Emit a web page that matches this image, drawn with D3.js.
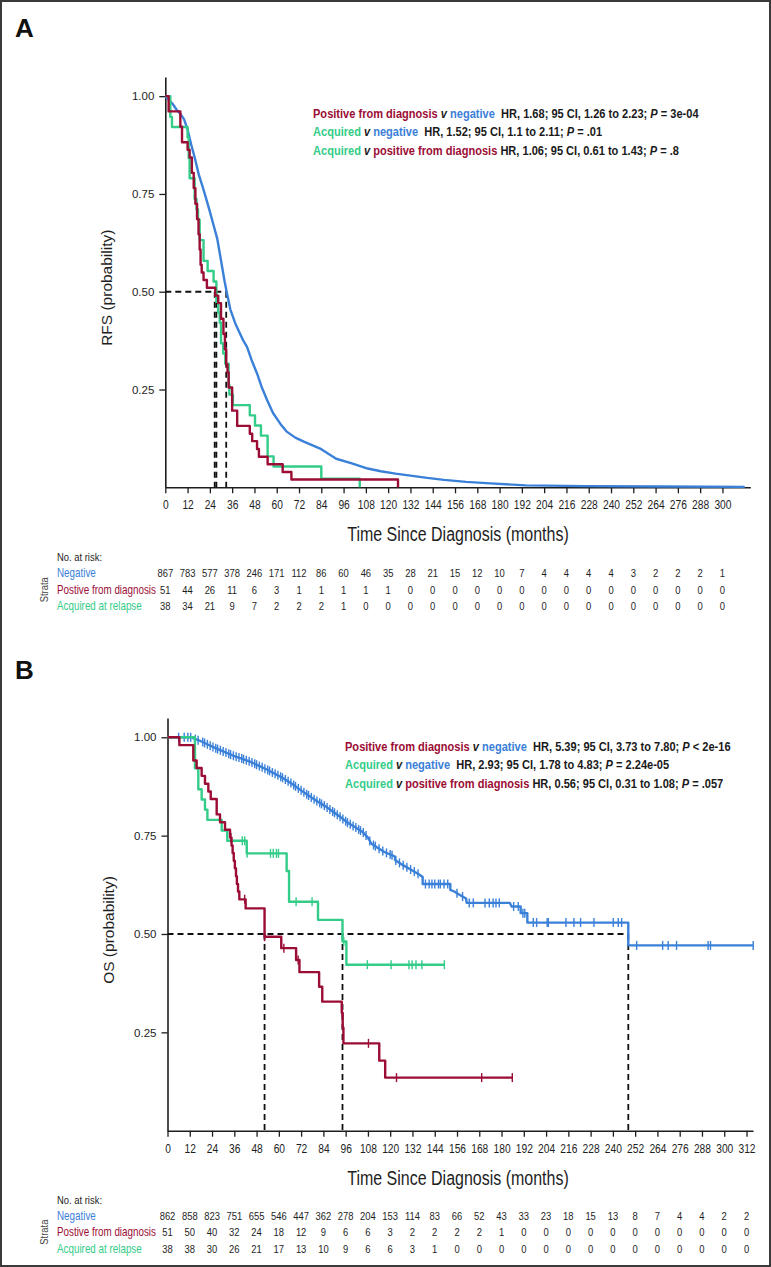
<!DOCTYPE html>
<html><head><meta charset="utf-8">
<script src="https://cdn.jsdelivr.net/npm/d3@7"></script>
<style>
html,body{margin:0;padding:0;background:#fff;}
svg{display:block;}
text{white-space:pre;}
</style></head><body>
<svg id="c" width="771" height="1267"></svg>
<script>
// ---------------- DATA ----------------
const monthsA = [0,12,24,36,48,60,72,84,96,108,120,132,144,156,168,180,192,204,216,228,240,252,264,276,288,300];
const monthsB = [0,12,24,36,48,60,72,84,96,108,120,132,144,156,168,180,192,204,216,228,240,252,264,276,288,300,312];
const yTickValues = [0.25,0.5,0.75,1.0];
const yTickLabels = ["0.25","0.50","0.75","1.00"];
const strataLabels = ["Negative","Postive from diagnosis","Acquired at relapse"];

// Panel A: RFS
const rfsNegT = [0,2,4,6,8,10,12,14,16,18,20,22,24,26,28,30,32,33.2,35,37.7,40,42,44,46.5,49.4,52,54.8,58,62,65.2,70,74.9,79,83.4,88,92,100,109,116,124,132,141,150,162,175,194,226,268,312];
const rfsNegS = [1,0.99,0.98,0.966,0.955,0.942,0.915,0.875,0.84,0.8,0.77,0.738,0.705,0.67,0.635,0.58,0.525,0.496,0.455,0.419,0.395,0.375,0.359,0.325,0.291,0.255,0.223,0.19,0.162,0.143,0.127,0.116,0.108,0.099,0.085,0.073,0.062,0.048,0.041,0.035,0.03,0.024,0.019,0.014,0.01,0.005,0.003,0.002,0.001];
const rfsPosT = [0,1.8,8.1,9.0,12.0,13.1,14.3,15.3,16.2,17.1,17.9,18.5,19.0,19.6,20.6,22.4,26.9,28.5,30.0,31.3,32.1,32.8,33.5,34.1,36.0,38.7,45.5,46.8,49.4,50.4,55.1,63.2,67.9,125.3];
const rfsPosS = [1,0.961,0.922,0.882,0.863,0.843,0.804,0.765,0.725,0.686,0.647,0.608,0.569,0.549,0.530,0.510,0.490,0.471,0.431,0.392,0.353,0.314,0.294,0.255,0.196,0.157,0.137,0.118,0.098,0.078,0.059,0.039,0.020,0];
const rfsAcqT = [0,2.7,3.6,12.0,12.6,13.1,15.8,16.8,17.6,18.5,20.6,22.8,26.0,27.5,28.5,29.3,30.0,31.2,32.3,34.1,34.5,36.4,45.5,48.3,51.5,55.1,58.3,84.0,104.7];
const rfsAcqS = [1,0.947,0.921,0.895,0.842,0.790,0.737,0.711,0.684,0.632,0.579,0.553,0.526,0.474,0.447,0.421,0.368,0.342,0.316,0.263,0.237,0.210,0.184,0.158,0.132,0.079,0.053,0.022,0];
const rfsMedians = [26.6,27.5,32.8];
const riskA_neg = [867,783,577,378,246,171,112,86,60,46,35,28,21,15,12,10,7,4,4,4,4,3,2,2,2,1];
const riskA_pos = [51,44,26,11,6,3,1,1,1,1,1,0,0,0,0,0,0,0,0,0,0,0,0,0,0,0];
const riskA_acq = [38,34,21,9,7,2,2,2,1,0,0,0,0,0,0,0,0,0,0,0,0,0,0,0,0,0];

// Panel B: OS
const osNegT = [0,13.5,14,18,22,26.5,31,35.5,40,44.5,49,53.5,58,62.4,67,71.4,76,80.4,85,89.4,93,97,101,105.5,108,109.8,113,116.2,119,122.6,122.6,126.9,131,135.4,137.5,137.5,152.4,152.4,154.5,158,160.9,161.2,184.5,185.4,190.3,190.3,193.9,193.9,248.3,248.3,315.6];
const osNegS = [1,1,0.997,0.99,0.981,0.971,0.962,0.953,0.946,0.938,0.928,0.918,0.907,0.896,0.882,0.867,0.852,0.838,0.825,0.81,0.798,0.783,0.772,0.758,0.745,0.73,0.72,0.71,0.704,0.697,0.688,0.675,0.664,0.652,0.645,0.627,0.627,0.612,0.608,0.598,0.59,0.579,0.579,0.57,0.57,0.553,0.553,0.529,0.529,0.471,0.471];
const osNegCens = [6,9,11,12.5,15,16.5,19,20,21.5,23,24.5,26,27,28.5,30,31.5,33,34,35.5,37,38.5,40,41,42.5,44,45.5,47,48,49.5,51,52.5,54,55,56.5,58,59.5,61,62,63.5,65,66.5,68,69,70.5,72,73.5,75,76,77.5,79,80.5,82,83,84.5,86,87.5,89,90,91.5,93,94.5,96,97,98.5,100,101.5,103,104,105.5,107,109,111,112,114,116,118,120,121,123,125,127,129,131,133,135,139,141,142.5,144,146,147,149,151,156,159,162.6,164.8,171.1,173.4,175.5,177,178.8,186.5,189,191.5,192.5,197.1,198.9,204.6,205.2,214.7,219,222.6,229.8,240.2,242.9,244.7,252.8,266.8,269.8,274.3,291.3,292.6,315.6];
const osPosT = [0,6.4,13.9,15.7,18.4,20.2,22.0,23.3,26.5,28.3,31.0,33.7,34.5,35.1,35.7,36.3,36.9,37.4,38.0,38.7,42.1,52.3,61.3,69.3,71.1,81.7,83.4,93.9,94.4,94.8,114.1,117.3];
const osPosS = [1,0.980,0.941,0.922,0.902,0.882,0.862,0.843,0.804,0.784,0.765,0.745,0.725,0.706,0.686,0.667,0.647,0.627,0.608,0.588,0.565,0.493,0.464,0.434,0.403,0.366,0.328,0.300,0.262,0.222,0.178,0.135];
const osPosEnd = 185.8;
const osPosCens = [34.2,41.6,52.3,62.7,70.4,94.2,108.3,123.4,169.3,185.8];
const osAcqT = [0,14.8,16.6,18.4,20.2,21.5,29.2,32.2,42.7,64.2,65.5,81.1,94.3,96.4];
const osAcqS = [1,0.921,0.868,0.842,0.816,0.790,0.763,0.737,0.705,0.66,0.582,0.536,0.481,0.422];
const osAcqEnd = 149.2;
const osAcqCens = [40.3,41.6,42.9,55.5,57.0,58.7,59.8,69.3,77.9,95.0,107.7,120.5,130.1,131.8,133.9,137.1,149.2];
const osMedians = [52.3,94.3,248.3];
const riskB_neg = [862,858,823,751,655,546,447,362,278,204,153,114,83,66,52,43,33,23,18,15,13,8,7,4,4,2,2];
const riskB_pos = [51,50,40,32,24,18,12,9,6,6,3,2,2,2,2,1,0,0,0,0,0,0,0,0,0,0,0];
const riskB_acq = [38,38,30,26,21,17,13,10,9,6,6,3,1,0,0,0,0,0,0,0,0,0,0,0,0,0,0];

const legendA = [
  [["pos","Positive from diagnosis"],["it"," v "],["neg","negative"],["k","  HR, 1.68; 95 CI, 1.26 to 2.23; "],["it","P"],["k"," = 3e-04"]],
  [["acq","Acquired"],["it"," v "],["neg","negative"],["k","  HR, 1.52; 95 CI, 1.1 to 2.11; "],["it","P"],["k"," = .01"]],
  [["acq","Acquired"],["it"," v "],["pos","positive from diagnosis"],["k"," HR, 1.06; 95 CI, 0.61 to 1.43; "],["it","P"],["k"," = .8"]]
];
const legendB = [
  [["pos","Positive from diagnosis"],["it"," v "],["neg","negative"],["k","  HR, 5.39; 95 CI, 3.73 to 7.80; "],["it","P"],["k"," < 2e-16"]],
  [["acq","Acquired"],["it"," v "],["neg","negative"],["k","  HR, 2.93; 95 CI, 1.78 to 4.83; "],["it","P"],["k"," = 2.24e-05"]],
  [["acq","Acquired"],["it"," v "],["pos","positive from diagnosis"],["k"," HR, 0.56; 95 CI, 0.31 to 1.08; "],["it","P"],["k"," = .057"]]
];

// ---------------- STYLE ----------------
const COL = {neg:"#3a80d8", pos:"#9b0d35", acq:"#33cc88", k:"#1a1a1a", it:"#1a1a1a"};
const SANS = "'Liberation Sans',Arial,Helvetica,sans-serif";
const SQ = 0.82; // horizontal squeeze to imitate a condensed face
const INK = "#1e1e1e";

const svg = d3.select("#c");
svg.append("rect").attr("x",1).attr("y",1).attr("width",769).attr("height",1265)
  .attr("fill","#fff").attr("stroke","#3a3a3a").attr("stroke-width",2);

function ntext(sel, x, y, str, size, extraTransform){
  return sel.append("text")
    .attr("transform",`translate(${x},${y})${extraTransform||""} scale(${SQ},1)`)
    .attr("font-family",SANS).attr("font-size",size).attr("fill",INK).text(str);
}

function valueAt(T,S,t,linear){
  let i = 0;
  for (let k=0;k<T.length;k++){ if (T[k] <= t) i = k; }
  if (!linear || i >= T.length-1 || T[i+1]===T[i]) return S[i];
  const f = (t - T[i])/(T[i+1]-T[i]);
  return S[i] + f*(S[i+1]-S[i]);
}

function panel(p){
  const g = svg.append("g");
  const x = d3.scaleLinear().domain([0,p.xMax]).range([p.x0,p.x1]);
  const y = d3.scaleLinear().domain([0,1.049]).range([p.yBase,p.yTop]);

  g.append("text").attr("x",15).attr("y",p.letterY).text(p.letter)
    .attr("font-family",SANS).attr("font-weight","bold").attr("font-size",26).attr("fill","#111");

  const ya = g.append("g").attr("transform",`translate(${p.x0},0)`)
    .call(d3.axisLeft(y).tickValues(yTickValues).tickFormat((d,i)=>yTickLabels[i]).tickSize(6).tickSizeOuter(0).tickPadding(5));
  ya.selectAll("text").attr("font-family",SANS).attr("font-size",11.5).attr("fill",INK);
  const xa = g.append("g").attr("transform",`translate(0,${p.yBase})`)
    .call(d3.axisBottom(x).tickValues(p.months).tickFormat(d=>String(d)).tickSize(6).tickSizeOuter(0));
  xa.selectAll("text").attr("font-family",SANS).attr("font-size",12.5).attr("fill",INK)
    .attr("y",null).attr("dy",null).attr("transform",`translate(0,${p.tickLabDY}) scale(${SQ},1)`);
  [ya,xa].forEach(a=>{
    a.select(".domain").attr("stroke",INK).attr("stroke-width",1.6);
    a.selectAll(".tick line").attr("stroke",INK).attr("stroke-width",1.3);
  });

  g.append("text").attr("transform",`translate(${p.yTitleX},${y(0.5)-4}) rotate(-90)`)
    .attr("text-anchor","middle").attr("font-family",SANS).attr("font-size",15.5).attr("fill",INK).text(p.yTitle);
  ntext(g, 458, p.yBase + p.xTitleDY, "Time Since Diagnosis (months)", 19.5).attr("text-anchor","middle");

  const dash = g.append("g").attr("stroke","#111").attr("stroke-width",1.8).attr("stroke-dasharray","6,4").attr("fill","none");
  dash.append("line").attr("x1",p.x0).attr("x2",x(d3.max(p.medians))).attr("y1",y(0.5)).attr("y2",y(0.5));
  p.medians.forEach(m=>dash.append("line").attr("x1",x(m)).attr("x2",x(m)).attr("y1",y(0.5)).attr("y2",p.yBase));

  p.series.forEach(s=>{
    const pts = s.T.map((t,i)=>[t,s.S[i]]);
    if (s.end !== undefined) pts.push([s.end, s.S[s.S.length-1]]);
    const line = d3.line().x(d=>x(d[0])).y(d=>y(d[1])).curve(s.linear ? d3.curveLinear : d3.curveStepAfter);
    g.append("path").attr("d",line(pts)).attr("fill","none").attr("stroke",COL[s.key])
      .attr("stroke-width",2.4).attr("stroke-linejoin","round");
    if (s.cens){
      g.append("g").selectAll("line").data(s.cens).join("line")
        .attr("x1",d=>x(d)).attr("x2",d=>x(d))
        .attr("y1",d=>y(valueAt(s.T,s.S,d,s.linear))-4.5)
        .attr("y2",d=>y(valueAt(s.T,s.S,d,s.linear))+4.5)
        .attr("stroke",COL[s.key]).attr("stroke-width",1.4);
    }
  });

  p.legend.forEach((row,i)=>{
    const t = g.append("text")
      .attr("transform",`translate(${p.legX},${p.legY + i*p.legDY}) scale(${SQ},1)`)
      .attr("font-family",SANS).attr("font-weight","bold").attr("font-size",13.5);
    row.forEach(seg=>{
      t.append("tspan").text(seg[1]).attr("fill",COL[seg[0]])
        .attr("font-style",seg[0]==="it"?"italic":"normal");
    });
  });

  const rt = p.yBase;
  ntext(g, 57, rt + p.riskDY[0], "No. at risk:", 11.5);
  const rows = [["neg",p.risk[0]],["pos",p.risk[1]],["acq",p.risk[2]]];
  const rowY = [rt + p.riskDY[1], rt + p.riskDY[2], rt + p.riskDY[3]];
  rows.forEach((r,i)=>{
    ntext(g, 57, rowY[i], strataLabels[i], 12).attr("fill",COL[r[0]]);
    const rg = g.append("g");
    r[1].forEach((d,j)=>{
      ntext(rg, x(p.months[j]), rowY[i], String(d), 11.5).attr("text-anchor","middle");
    });
  });
  ntext(g, 48, rowY[1]-4, "Strata", 11.5, " rotate(-90)").attr("text-anchor","middle").attr("fill","#444");
}

panel({
  letter:"A", letterY:37, x0:165.3, x1:750.3, xMax:315, yBase:487.3, yTop:77,
  months:monthsA, yTitle:"RFS (probability)", yTitleX:112, medians:rfsMedians,
  tickLabDY:22, xTitleDY:54, riskDY:[74,90,106.5,123],
  series:[
    {key:"neg", T:rfsNegT, S:rfsNegS, linear:true},
    {key:"acq", T:rfsAcqT, S:rfsAcqS},
    {key:"pos", T:rfsPosT, S:rfsPosS}
  ],
  legend:legendA, legX:313, legY:117.5, legDY:18.5,
  risk:[riskA_neg,riskA_pos,riskA_acq]
});
panel({
  letter:"B", letterY:679, x0:167.5, x1:753, xMax:315.5, yBase:1130.7, yTop:718,
  months:monthsB, yTitle:"OS (probability)", yTitleX:114, medians:osMedians,
  tickLabDY:22, xTitleDY:54, riskDY:[73,89,105.5,122],
  series:[
    {key:"neg", T:osNegT, S:osNegS, linear:true, cens:osNegCens},
    {key:"acq", T:osAcqT, S:osAcqS, end:osAcqEnd, cens:osAcqCens},
    {key:"pos", T:osPosT, S:osPosS, end:osPosEnd, cens:osPosCens}
  ],
  legend:legendB, legX:345, legY:750.5, legDY:18.5,
  risk:[riskB_neg,riskB_pos,riskB_acq]
});
</script></body></html>
